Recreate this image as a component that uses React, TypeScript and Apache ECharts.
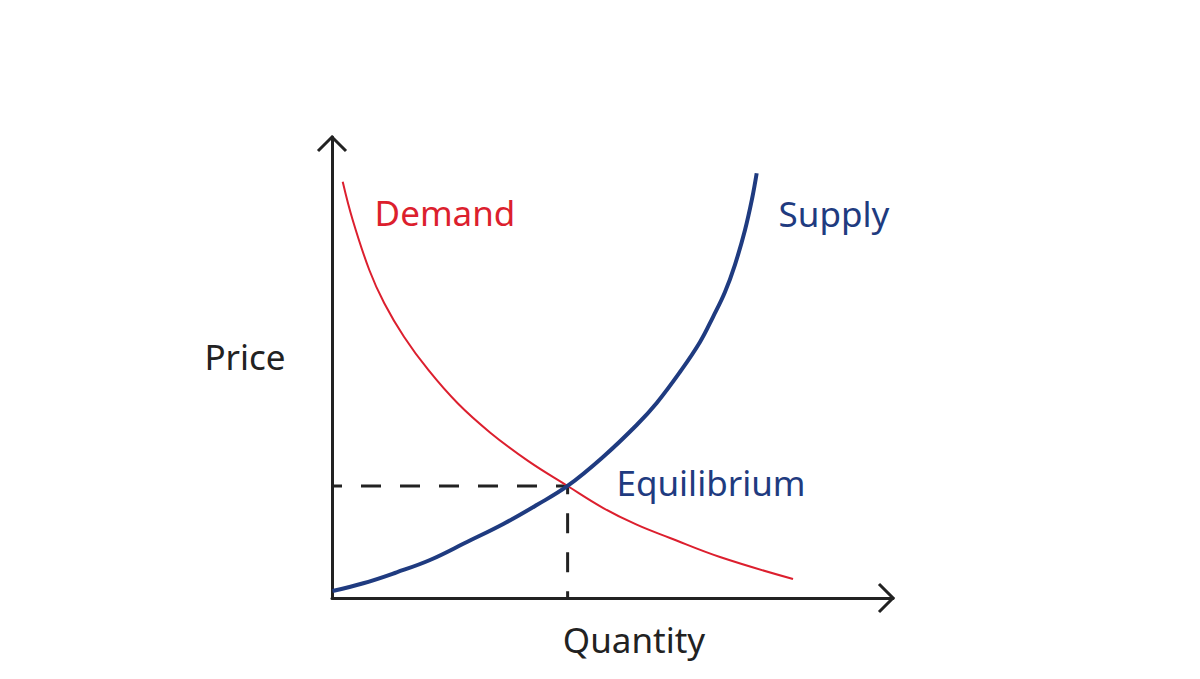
import React, { useEffect, useRef } from "react";
import * as echarts from "echarts";

const demandX = [1.91, 3.69, 6.65, 9.32, 12.83, 17.17, 22.4, 28.16, 34.94, 42.0, 48.36, 54.31, 60.25, 69.16, 82.18];
const demandY = [90.3, 82.0, 71.15, 63.93, 56.68, 49.46, 42.23, 35.92, 29.74, 24.3, 19.52, 15.9, 13.02, 8.89, 4.12];

const supplyX = [0.09, 5.58, 11.53, 17.47, 24.06, 30.53, 36.49, 41.98, 48.36, 54.31, 57.88, 62.03, 65.6, 67.91, 70.05, 71.84, 73.62, 74.87, 75.7];
const supplyY = [1.52, 3.19, 5.57, 8.24, 12.15, 16.05, 20.17, 24.3, 30.65, 37.53, 42.3, 49.02, 55.53, 60.95, 66.38, 72.34, 79.83, 86.55, 92.13];

const equilibrium = [42.0, 24.3];

const labels = {
  demand: "Demand",
  supply: "Supply",
  equilibrium: "Equilibrium",
  price: "Price",
  quantity: "Quantity",
};

const RED = "#dc1f2e";
const BLUE = "#1f3b80";
const INK = "#222222";
const FONT = "'Noto Sans', sans-serif";

export default function App() {
  const ref = useRef<HTMLDivElement>(null);

  useEffect(() => {
    if (!ref.current) return;
    const chart = echarts.init(ref.current, undefined, { renderer: "svg" });
    const zip = (xs: number[], ys: number[]) => xs.map((x, i) => [x, ys[i]]);

    const axisCommon = {
      type: "value" as const,
      min: 0,
      max: 100,
      axisLine: { show: true, onZero: false, lineStyle: { color: INK, width: 3 } },
      axisTick: { show: false },
      axisLabel: { show: false },
      splitLine: { show: false },
    };

    chart.setOption({
      animation: false,
      backgroundColor: "#ffffff",
      grid: { left: 332, right: 307, top: 137, bottom: 81 },
      xAxis: axisCommon,
      yAxis: axisCommon,
      series: [
        {
          name: "Guide",
          type: "line",
          data: [[0, equilibrium[1]], [equilibrium[0], equilibrium[1]], [equilibrium[0], 0]],
          symbol: "none",
          lineStyle: { color: INK, width: 3, type: [20, 19], dashOffset: 10 },
          z: 1,
        },
        {
          name: labels.demand,
          type: "line",
          data: zip(demandX, demandY),
          smooth: 0.4,
          symbol: "none",
          lineStyle: { color: RED, width: 2 },
          z: 2,
        },
        {
          name: labels.supply,
          type: "line",
          data: zip(supplyX, supplyY),
          smooth: 0.4,
          symbol: "none",
          lineStyle: { color: BLUE, width: 4 },
          z: 3,
        },
      ],
    });

    const xTip = chart.convertToPixel({ gridIndex: 0 }, [100, 0]) as number[];
    const yTip = chart.convertToPixel({ gridIndex: 0 }, [0, 100]) as number[];
    const a = 14;
    const text = (t: string, x: number, y: number, color: string) => ({
      type: "text",
      x,
      y,
      style: {
        text: t,
        fill: color,
        font: `400 35px ${FONT}`,
        textAlign: "center",
        textVerticalAlign: "middle",
      },
    });

    chart.setOption({
      graphic: [
        {
          type: "polyline",
          shape: { points: [[xTip[0] - a, xTip[1] - a], [xTip[0], xTip[1]], [xTip[0] - a, xTip[1] + a]] },
          style: { stroke: INK, lineWidth: 3, fill: "none", lineJoin: "miter" },
        },
        {
          type: "polyline",
          shape: { points: [[yTip[0] - a, yTip[1] + a], [yTip[0], yTip[1]], [yTip[0] + a, yTip[1] + a]] },
          style: { stroke: INK, lineWidth: 3, fill: "none", lineJoin: "miter" },
        },
        text(labels.demand, 445, 212, RED),
        text(labels.supply, 834, 213, BLUE),
        text(labels.equilibrium, 711, 482, BLUE),
        text(labels.price, 245, 356, INK),
        text(labels.quantity, 634, 639, INK),
      ],
    });

    return () => chart.dispose();
  }, []);

  return (
    <div
      ref={ref}
      style={{ position: "absolute", left: 0, top: 0, width: 1200, height: 679, background: "#fff" }}
    />
  );
}
